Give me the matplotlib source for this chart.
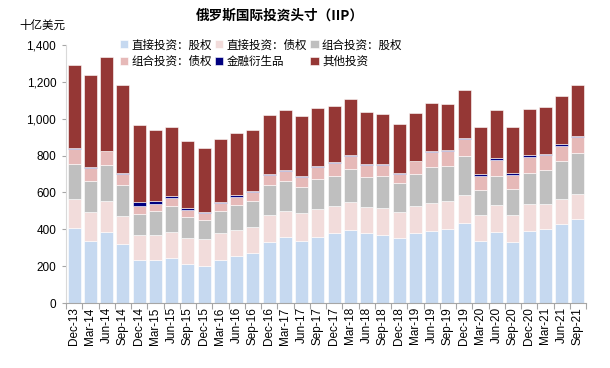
import matplotlib
matplotlib.use("Agg")
import matplotlib.pyplot as plt
import numpy as np

quarters = ["Dec-13", "Mar-14", "Jun-14", "Sep-14", "Dec-14", "Mar-15", "Jun-15", "Sep-15",
            "Dec-15", "Mar-16", "Jun-16", "Sep-16", "Dec-16", "Mar-17", "Jun-17", "Sep-17",
            "Dec-17", "Mar-18", "Jun-18", "Sep-18", "Dec-18", "Mar-19", "Jun-19", "Sep-19",
            "Dec-19", "Mar-20", "Jun-20", "Sep-20", "Dec-20", "Mar-21", "Jun-21", "Sep-21"]

direct_equity = [407, 337, 387, 320, 232, 235, 246, 214, 203, 235, 253, 270, 333, 360, 335, 360,
                 378, 398, 378, 371, 353, 378, 393, 404, 436, 338, 387, 333, 393, 404, 427, 454]
direct_debt = [156, 155, 167, 154, 137, 136, 141, 137, 143, 145, 145, 141, 143, 141, 152, 152,
               150, 152, 145, 147, 141, 150, 150, 148, 150, 142, 147, 147, 144, 135, 139, 140]
portfolio_equity = [193, 170, 197, 165, 112, 127, 138, 114, 103, 119, 132, 141, 166, 160, 143, 159,
                    160, 176, 163, 170, 156, 174, 195, 190, 210, 132, 157, 137, 171, 185, 207, 219]
portfolio_debt = [80, 71, 72, 61, 47, 41, 45, 42, 40, 42, 47, 51, 51, 57, 56, 69,
                  72, 72, 61, 59, 50, 67, 80, 81, 94, 79, 87, 80, 86, 78, 79, 86]
derivatives = [3, 4, 4, 5, 18, 17, 8, 7, 7, 7, 7, 5, 5, 6, 5, 6,
               5, 5, 6, 6, 6, 4, 7, 6, 8, 7, 7, 7, 8, 8, 9, 6]
other_investment = [453, 500, 507, 477, 420, 383, 376, 365, 344, 342, 337, 331, 324, 326, 324, 314,
                    303, 305, 286, 273, 266, 260, 261, 251, 258, 256, 263, 251, 251, 254, 263, 278]

series_names = ["直接投资：股权", "直接投资：债权", "组合投资：股权",
                "组合投资：债权", "金融衍生品", "其他投资"]
series_values = [direct_equity, direct_debt, portfolio_equity,
                 portfolio_debt, derivatives, other_investment]
colors = ["#c6d9f0", "#f2dcdb", "#bfbfbf", "#e6b9b8", "#000080", "#953735"]

cjk = ["Noto Sans CJK SC", "DejaVu Sans"]
plt.rcParams["font.family"] = ["Liberation Sans", "Noto Sans CJK SC", "DejaVu Sans"]

fig = plt.figure(figsize=(6.1, 3.68), dpi=100)
ax = fig.add_axes([66 / 610, 1 - 303 / 368, 520 / 610, 258 / 368])

x = np.arange(len(quarters))
bottom = np.zeros(len(quarters))
handles = []
for name, vals, col in zip(series_names, series_values, colors):
    v = np.array(vals, dtype=float)
    h = ax.bar(x, v, bottom=bottom, width=0.8, color=col, edgecolor="white",
               linewidth=0.4, label=name)
    handles.append(h)
    bottom += v

ax.set_xlim(-0.5, len(quarters) - 0.5)
ax.set_ylim(0, 1400)
ax.set_yticks(np.arange(0, 1401, 200))
ax.set_yticklabels([f"{v:,}" for v in range(0, 1401, 200)], fontsize=8.5)
ax.set_xticks(x)
ax.set_xticklabels(quarters, rotation=90, fontsize=8.5)
ax.set_xticks(np.arange(-0.5, len(quarters), 1), minor=True)
ax.tick_params(axis="x", which="major", length=0, pad=3)
ax.tick_params(axis="x", which="minor", length=4, color="#a6a6a6", width=0.8)
ax.tick_params(axis="y", length=3, color="#a6a6a6", width=0.8, pad=4)

for s in ["top", "right"]:
    ax.spines[s].set_visible(False)
ax.spines["left"].set_color("#d9d9d9")
ax.spines["bottom"].set_color("#a6a6a6")
ax.spines["left"].set_linewidth(0.8)
ax.spines["bottom"].set_linewidth(0.8)

fig.text(280 / 610, 1 - 16 / 368, "俄罗斯国际投资头寸（IIP）", ha="center", va="center",
         fontsize=9.8, fontweight="bold", family=cjk)
fig.text(19 / 610, 1 - 25 / 368, "十亿美元", ha="left", va="center", fontsize=8.3, family=cjk)

order = [0, 3, 1, 4, 2, 5]
leg = fig.legend(handles=[handles[i] for i in order],
                 labels=[series_names[i] for i in order],
                 loc="center", bbox_to_anchor=(261 / 610, 1 - 53 / 368),
                 ncol=3, frameon=False, prop={"family": cjk, "size": 8.3},
                 handlelength=0.7, handleheight=0.7, handletextpad=0.3,
                 columnspacing=0.3, labelspacing=0.3, borderaxespad=0)

fig.savefig("out.png", dpi=100)
